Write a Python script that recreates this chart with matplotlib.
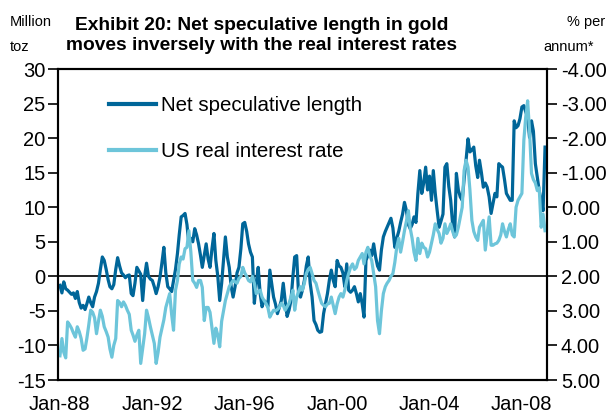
import matplotlib
matplotlib.use("Agg")
import matplotlib.pyplot as plt
import matplotlib.dates as mdates
import pandas as pd
import numpy as np

# Monthly observations, Jan-1988 .. Jan-2009
months = pd.date_range("1988-01-01", periods=253, freq="MS")

# Net speculative length in gold (million troy ounces)
net_spec_length = [
    -1.3, -2.4, -0.8, -1.8, -2.0, -2.3, -2.6, -2.4, -3.2, -2.2, -3.8, -4.6,   # 1988
    -4.2, -4.8, -4.0, -3.0, -3.8, -4.4, -3.0, -2.2, -1.0, 1.0, 2.8, 2.3,      # 1989
    1.0, -0.5, -1.5, -1.8, -1.2, 1.0, 2.7, 1.5, 0.5, 0.2, -0.2, 0.1,          # 1990
    0.2, -2.5, -2.8, -1.0, 1.3, 0.8, 0.3, -3.5, 0.0, 1.9, 0.0, -0.4,          # 1991
    -0.6, -1.5, -2.5, -1.5, -0.1, 2.0, 4.2, 0.5, -1.5, -1.8, -2.2, -0.6,      # 1992
    1.0, 3.3, 6.0, 8.6, 8.8, 9.1, 7.5, 4.7, 5.5, 5.0, 6.9, 6.0,               # 1993
    4.7, 3.0, 1.3, 3.0, 4.7, 2.5, 1.3, 4.0, 6.2, 2.3, 0.0, -3.5,              # 1994
    -1.0, 2.5, 5.7, 2.8, 1.3, -1.5, -3.0, -1.5, 0.5, 1.3, 4.0, 7.6,           # 1995
    7.8, 6.5, 4.7, 3.5, 2.8, -3.9, -1.0, 1.3, -2.5, -4.4, -3.5, -3.8,         # 1996
    -4.4, 0.9, -1.0, -3.0, -4.0, -5.4, -4.5, -3.5, -1.0, -3.5, -5.8, -4.9,    # 1997
    -3.5, 0.0, 2.8, 3.0, -2.5, -3.0, -2.0, -0.6, 1.5, 2.8, -1.0, -3.0,        # 1998
    -6.4, -7.0, -7.8, -8.1, -8.0, -5.4, -4.0, -2.5, -0.5, 0.9, -0.6, -1.5,    # 1999
    2.3, 1.5, 1.3, 0.5, -1.5, 1.8, -2.0, -2.3, -2.0, -1.5, -2.5, -3.7,        # 2000
    -2.5, -4.0, -5.9, 2.3, 3.0, 3.8, 3.0, 4.7, 2.8, 1.5, 0.9, 3.8,            # 2001
    5.7, 6.5, 7.1, 7.8, 8.4, 7.0, 4.2, 5.5, 6.5, 7.8, 9.0, 10.7,              # 2002
    9.5, 7.5, 6.9, 7.5, 8.6, 7.8, 12.0, 15.3, 12.0, 13.5, 15.8, 12.5,         # 2003
    14.5, 11.0, 15.3, 12.0, 9.5, 7.1, 8.0, 9.0, 15.8, 16.3, 13.0, 11.0,       # 2004
    7.5, 5.7, 14.9, 12.5, 11.5, 11.0, 14.0, 16.8, 19.9, 18.0, 18.3, 18.7,     # 2005
    16.0, 14.3, 16.8, 15.0, 12.9, 13.5, 12.9, 11.5, 9.1, 10.5, 12.0, 11.5,    # 2006
    16.3, 16.0, 15.8, 14.0, 12.0, 11.5, 11.0, 11.0, 22.5, 21.5, 21.8, 22.8,   # 2007
    24.5, 24.7, 23.8, 23.0, 20.1, 22.5, 21.0, 16.3, 14.3, 12.4, 11.0, 9.5,    # 2008
    18.7,                                                                     # 2009
]

# US real interest rate (% per annum), plotted on an inverted scale
us_real_rate = [
    4.30, 3.80, 4.20, 4.36, 3.32, 3.40, 3.50, 3.64, 3.76, 3.46, 3.60, 3.80,   # 1988
    4.14, 4.10, 3.80, 3.40, 2.98, 3.04, 3.20, 3.66, 3.30, 2.98, 3.16, 3.46,   # 1989
    3.60, 3.76, 4.10, 4.34, 4.00, 3.80, 2.70, 2.76, 2.88, 2.74, 2.84, 2.98,   # 1990
    3.10, 3.56, 3.70, 3.88, 3.70, 3.56, 4.52, 4.10, 3.66, 2.98, 3.20, 3.46,   # 1991
    3.70, 3.94, 4.52, 4.20, 3.76, 3.50, 3.26, 2.90, 2.70, 2.50, 3.10, 3.56,   # 1992
    2.40, 2.12, 1.64, 1.44, 1.50, 1.20, 1.16, 0.68, 1.30, 2.12, 2.20, 2.32,   # 1993
    2.12, 2.12, 2.32, 3.28, 2.90, 2.90, 3.04, 3.50, 3.94, 3.50, 3.70, 4.04,   # 1994
    3.30, 2.98, 2.70, 2.50, 2.30, 2.20, 2.12, 2.16, 2.20, 2.06, 2.00, 1.74,   # 1995
    1.90, 2.00, 2.12, 2.16, 2.00, 2.20, 2.50, 2.44, 2.40, 2.60, 2.70, 2.78,   # 1996
    2.90, 3.18, 3.08, 2.98, 3.00, 2.96, 2.90, 2.78, 2.84, 2.98, 2.88, 2.78,   # 1997
    2.60, 2.40, 2.98, 2.60, 2.44, 2.30, 2.40, 2.20, 1.92, 1.80, 1.74, 1.92,   # 1998
    2.12, 2.20, 2.40, 2.60, 2.78, 2.84, 2.88, 2.80, 2.78, 2.60, 2.84, 3.08,   # 1999
    2.80, 2.60, 2.50, 2.60, 2.40, 2.12, 1.92, 1.74, 1.64, 1.80, 1.74, 1.54,   # 2000
    1.44, 1.34, 1.64, 1.30, 1.16, 1.40, 1.54, 1.92, 2.30, 3.28, 3.66, 3.00,   # 2001
    2.50, 2.30, 2.20, 2.12, 2.00, 1.92, 1.60, 1.16, 0.90, 1.30, 1.00, 0.68,   # 2002
    0.40, 0.10, 0.60, 0.90, 1.30, 1.54, 0.90, 1.34, 1.04, 1.16, 1.20, 1.44,   # 2003
    1.30, 1.04, 0.80, 0.48, 0.64, 0.76, 1.04, 0.90, 0.48, 0.76, 0.64, 0.48,   # 2004
    0.70, 0.86, 0.80, 0.58, 0.30, 0.00, -1.06, -1.36, -1.16, -0.50, 0.38, 0.70,  # 2005
    0.86, 0.96, 0.58, 0.48, 0.38, 1.24, 0.76, 0.28, 1.10, 1.10, 1.06, 1.04,   # 2006
    0.96, 0.80, 0.48, 0.70, 0.86, 0.64, 0.48, 0.80, 0.86, 0.00, -0.20, -0.30, # 2007
    -0.40, -1.94, -2.60, -3.08, -2.20, -0.98, -0.80, -0.70, -0.48, -0.56, 0.58, 0.20,  # 2008
    0.68,                                                                     # 2009
]

left_ticks = [30, 25, 20, 15, 10, 5, 0, -5, -10, -15]
right_ticks = [-4, -3, -2, -1, 0, 1, 2, 3, 4, 5]
year_ticks = [1988, 1992, 1996, 2000, 2004, 2008]

DARK = "#006699"
LIGHT = "#6dc5da"
FONT = ["Liberation Sans", "DejaVu Sans"]
plt.rcParams["font.family"] = FONT

W, H = 616, 413
fig = plt.figure(figsize=(W / 100, H / 100), dpi=100)
ax = fig.add_axes([58 / W, 1 - 380 / H, (547 - 58) / W, (380 - 69) / H])
ax2 = ax.twinx()

l1, = ax.plot(months, net_spec_length, color=DARK, lw=2.3, solid_joinstyle="round")
l2, = ax2.plot(months, us_real_rate, color=LIGHT, lw=2.3, solid_joinstyle="round")

ax.axhline(0, color="black", lw=1.2, zorder=1)

ax.set_ylim(-15, 30)
ax.set_yticks(left_ticks)
ax.set_yticklabels([str(v) for v in left_ticks])
ax2.set_ylim(5, -4)
ax2.set_yticks(right_ticks)
ax2.set_yticklabels([f"{v:.2f}" for v in right_ticks])

ax.set_xlim(pd.Timestamp("1987-12-01"), pd.Timestamp("2009-02-01"))
ax.set_xticks([pd.Timestamp(f"{y}-01-01") for y in year_ticks])
ax.xaxis.set_major_formatter(mdates.DateFormatter("%b-%y"))

for a in (ax, ax2):
    for s in a.spines.values():
        s.set_linewidth(1.5)
        s.set_color("black")
ax.tick_params(axis="y", direction="out", length=7, width=1.2, labelsize=14.5, pad=2)
ax2.tick_params(axis="y", direction="out", length=7, width=1.2, labelsize=14.5, pad=3)
ax.tick_params(axis="x", length=0, labelsize=14.5, pad=11)

leg = ax2.legend([l1, l2], ["Net speculative length", "US real interest rate"],
                 loc="upper left", bbox_to_anchor=(109 / W, 1 - 96 / H),
                 bbox_transform=fig.transFigure, frameon=False,
                 fontsize=14.8, handlelength=2.3, handletextpad=0.25,
                 labelspacing=1.3, borderaxespad=0, borderpad=0)
for h in leg.get_lines():
    h.set_linewidth(3)

fig.text(262 / W, 1 - 25 / H, "Exhibit 20: Net speculative length in gold",
         ha="center", va="center", fontsize=13.8, fontweight="bold")
fig.text(262 / W, 1 - 46 / H, "moves inversely with the real interest rates",
         ha="center", va="center", fontsize=13.8, fontweight="bold")
fig.text(10 / W, 1 - 22 / H, "Million", ha="left", va="center", fontsize=10.5)
fig.text(10 / W, 1 - 47 / H, "toz", ha="left", va="center", fontsize=10.5)
fig.text(567 / W, 1 - 22 / H, "% per", ha="left", va="center", fontsize=10.5)
fig.text(543 / W, 1 - 47 / H, "annum*", ha="left", va="center", fontsize=10.5)

fig.savefig("out.png", dpi=100)
